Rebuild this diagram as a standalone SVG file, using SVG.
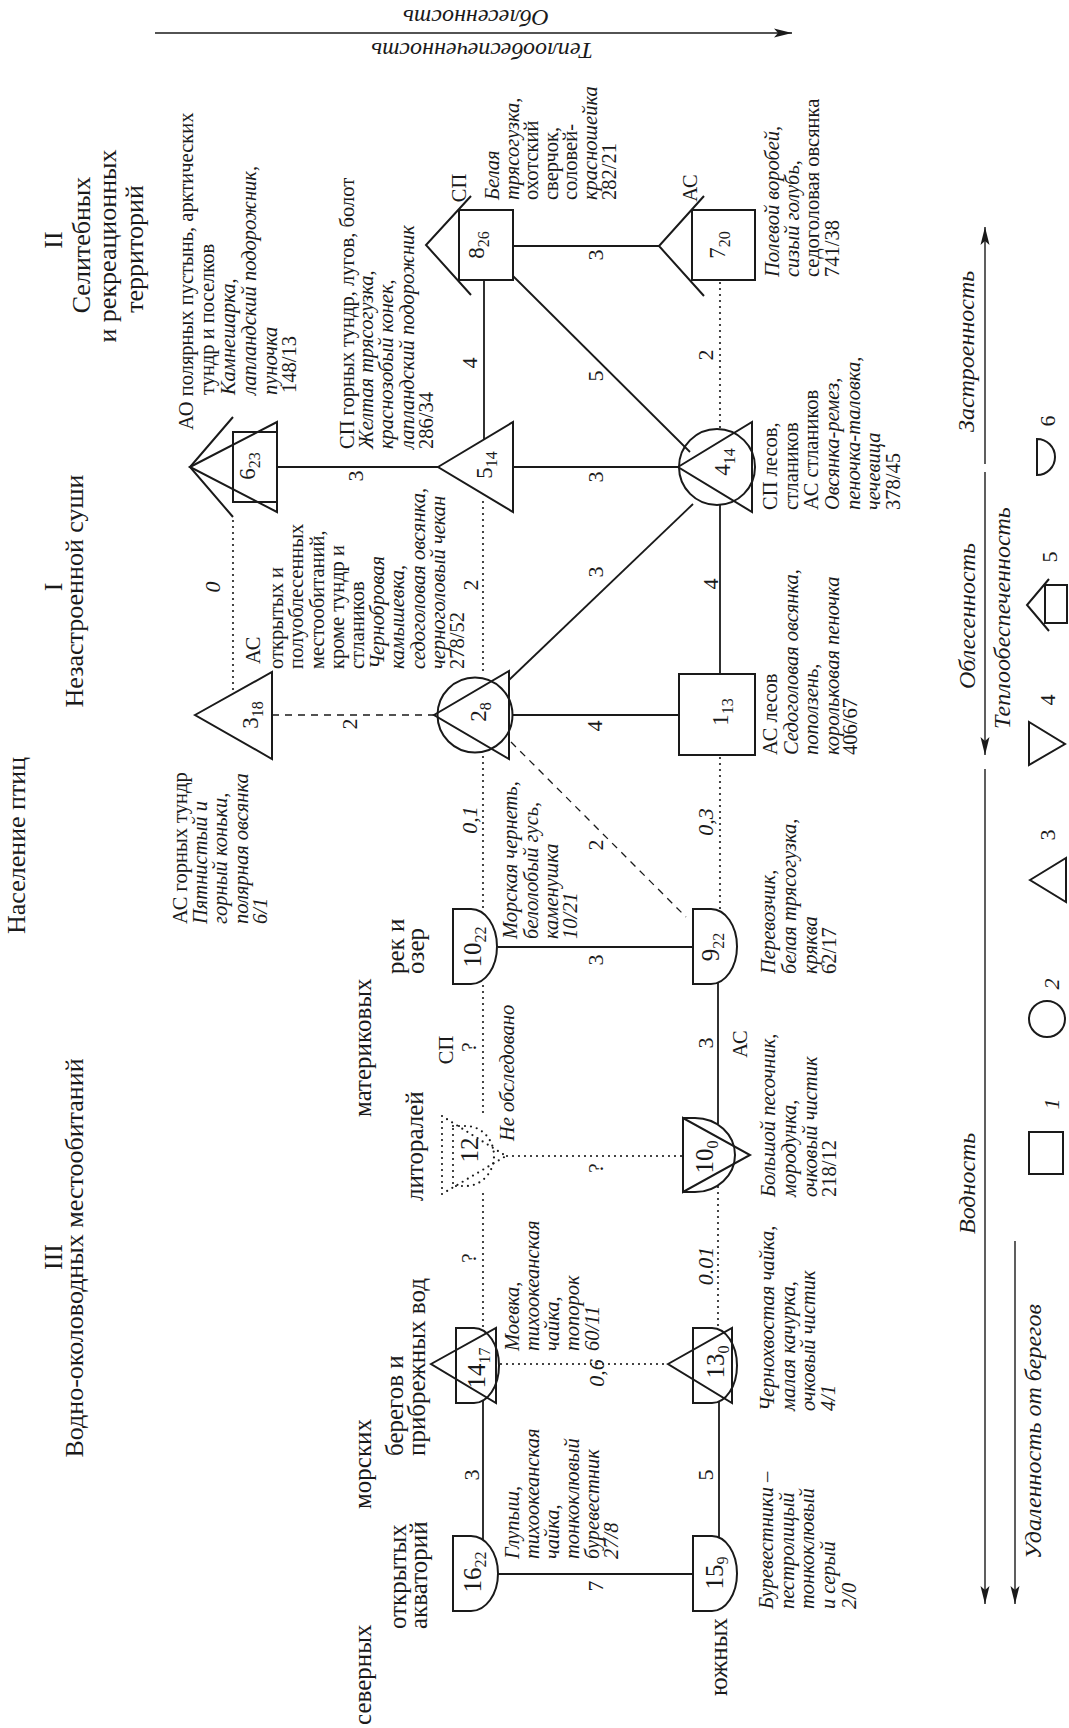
<svg xmlns="http://www.w3.org/2000/svg" width="1069" height="1728" viewBox="0 0 1069 1728">
<defs>
<style>
text{font-family:"Liberation Serif","Times New Roman",serif;fill:#1a1a1a}
.d{font-size:20.5px}
.i{font-style:italic}
.ttl{font-size:26px}
.sec{font-size:25px}
.nl{font-size:23px}
.nb{font-size:25px}
.sub{font-size:16px}
.el{font-size:22px}
.ax{font-size:24px;font-style:italic}
.sh{fill:none;stroke:#1a1a1a;stroke-width:2}
.ds{fill:none;stroke:#1a1a1a;stroke-width:2.2;stroke-dasharray:0 6;stroke-linecap:round}
.sl{stroke:#1a1a1a;stroke-width:1.8;fill:none}
.dt{stroke:#1a1a1a;stroke-width:2.2;stroke-dasharray:0 6;stroke-linecap:round;fill:none}
.dh{stroke:#1a1a1a;stroke-width:1.3;stroke-dasharray:7 6;fill:none}
.axl{stroke:#1a1a1a;stroke-width:1.4;fill:none}
</style>
<marker id="ah" viewBox="0 0 18 10" refX="18" refY="5" markerWidth="18" markerHeight="10" markerUnits="userSpaceOnUse" orient="auto"><path d="M0,0.5 L18,5 L0,9.5 L4,5 Z" fill="#1a1a1a"/></marker>
</defs>
<rect width="1069" height="1728" fill="#fff"/>

<g id="titles">
<text class="ttl" transform="translate(25 934) rotate(-90)">Население птиц</text>
<text class="ttl" text-anchor="middle" transform="translate(62 587) rotate(-90)">I</text>
<text class="ttl" text-anchor="middle" transform="translate(83 591) rotate(-90)">Незастроенной суши</text>
<text class="ttl" text-anchor="middle" transform="translate(62 240) rotate(-90)">II</text>
<text class="ttl" text-anchor="middle" transform="translate(90 245) rotate(-90)">Селитебных</text>
<text class="ttl" text-anchor="middle" transform="translate(116 246) rotate(-90)">и рекреационных</text>
<text class="ttl" text-anchor="middle" transform="translate(143 249) rotate(-90)">территорий</text>
<text class="ttl" text-anchor="middle" transform="translate(62 1257) rotate(-90)">III</text>
<text class="ttl" text-anchor="middle" transform="translate(83 1258) rotate(-90)">Водно-околоводных местообитаний</text>
<text class="sec" transform="translate(371 1725) rotate(-90)">северных</text>
<text class="sec" transform="translate(727 1696) rotate(-90)">южных</text>
<text class="sec" transform="translate(406 1629) rotate(-90)">открытых<tspan x="0" y="21">акваторий</tspan></text>
<text class="sec" transform="translate(371 1509) rotate(-90)">морских</text>
<text class="sec" transform="translate(403 1456) rotate(-90)">берегов и<tspan x="0" y="22">прибрежных вод</tspan></text>
<text class="sec" transform="translate(423 1201) rotate(-90)">литоралей</text>
<text class="sec" transform="translate(371 1117) rotate(-90)">материковых</text>
<text class="sec" transform="translate(404 974) rotate(-90)">рек и<tspan x="0" y="20">озер</tspan></text>
</g>

<g id="connectors">
<line class="sl" x1="277" y1="467" x2="438" y2="467"/>
<line class="sl" x1="513" y1="467" x2="678" y2="467"/>
<line class="sl" x1="513" y1="246" x2="659" y2="246"/>
<line class="sl" x1="484" y1="280" x2="484" y2="439"/>
<line class="sl" x1="513" y1="276" x2="690" y2="452"/>
<line class="sl" x1="509" y1="680" x2="693" y2="504"/>
<line class="sl" x1="513" y1="715" x2="679" y2="715"/>
<line class="sl" x1="720" y1="505" x2="720" y2="674"/>
<line class="sl" x1="498" y1="947" x2="693" y2="947"/>
<line class="sl" x1="718" y1="983" x2="718" y2="1124"/>
<line class="sl" x1="483" y1="1400" x2="483" y2="1540"/>
<line class="sl" x1="498" y1="1574" x2="693" y2="1574"/>
<line class="sl" x1="719" y1="1401" x2="719" y2="1538"/>
<line class="dt" x1="233" y1="521" x2="233" y2="691"/>
<line class="dt" x1="483" y1="502" x2="483" y2="676"/>
<line class="dt" x1="483" y1="757" x2="483" y2="909"/>
<line class="dt" x1="483" y1="986" x2="483" y2="1116"/>
<line class="dt" x1="483" y1="1194" x2="483" y2="1328"/>
<line class="dt" x1="720" y1="283" x2="720" y2="429"/>
<line class="dt" x1="720" y1="758" x2="720" y2="909"/>
<line class="dt" x1="718" y1="1187" x2="718" y2="1328"/>
<line class="dt" x1="507" y1="1156" x2="683" y2="1156"/>
<line class="dt" x1="501" y1="1364" x2="668" y2="1364"/>
<line class="dh" x1="272" y1="715" x2="434" y2="715"/>
<line class="dh" x1="511" y1="742" x2="686" y2="917"/>

<text class="el" text-anchor="middle" transform="translate(363 476) rotate(-90)">3</text>
<text class="el" text-anchor="middle" transform="translate(603 477) rotate(-90)">3</text>
<text class="el" text-anchor="middle" transform="translate(603 255) rotate(-90)">3</text>
<text class="el" text-anchor="middle" transform="translate(477 363) rotate(-90)">4</text>
<text class="el" text-anchor="middle" transform="translate(603 376) rotate(-90)">5</text>
<text class="el" text-anchor="middle" transform="translate(603 572) rotate(-90)">3</text>
<text class="el" text-anchor="middle" transform="translate(602 726) rotate(-90)">4</text>
<text class="el" text-anchor="middle" transform="translate(718 584) rotate(-90)">4</text>
<text class="el" text-anchor="middle" transform="translate(713 355) rotate(-90)">2</text>
<text class="el" text-anchor="middle" transform="translate(603 960) rotate(-90)">3</text>
<text class="el" text-anchor="middle" transform="translate(713 1043) rotate(-90)">3</text>
<text class="d" text-anchor="middle" transform="translate(747 1044) rotate(-90)">АС</text>
<text class="el" text-anchor="middle" transform="translate(479 1475) rotate(-90)">3</text>
<text class="el" text-anchor="middle" transform="translate(603 1586) rotate(-90)">7</text>
<text class="el" text-anchor="middle" transform="translate(713 1475) rotate(-90)">5</text>
<text class="el i" text-anchor="middle" transform="translate(220 587) rotate(-90)">0</text>
<text class="el" text-anchor="middle" transform="translate(478 585) rotate(-90)">2</text>
<text class="el i" text-anchor="middle" transform="translate(477 820) rotate(-90)">0,1</text>
<text class="el" text-anchor="middle" transform="translate(476 1047) rotate(-90)">?</text>
<text class="d" text-anchor="middle" transform="translate(453 1050) rotate(-90)">СП</text>
<text class="el" text-anchor="middle" transform="translate(476 1258) rotate(-90)">?</text>
<text class="el i" text-anchor="middle" transform="translate(713 822) rotate(-90)">0,3</text>
<text class="el i" text-anchor="middle" transform="translate(713 1266) rotate(-90)">0.01</text>
<text class="el" text-anchor="middle" transform="translate(603 1168) rotate(-90)">?</text>
<text class="el i" text-anchor="middle" transform="translate(604 1373) rotate(-90)">0,6</text>
<text class="el" text-anchor="middle" transform="translate(357 724) rotate(-90)">2</text>
<text class="el" text-anchor="middle" transform="translate(603 845) rotate(-90)">2</text>
</g>

<g id="node-6">
<polygon class="sh" points="190,467 277,422 277,512"/>
<rect class="sh" x="233" y="432" width="44" height="70"/>
<polyline class="sh" points="233,417 190,467 233,517"/>
<text class="nl" text-anchor="middle" transform="translate(255 466) rotate(-90)">6<tspan class="sub" dy="5">23</tspan></text>
</g>
<g id="node-3">
<polygon class="sh" points="195,715 272,672 272,759"/>
<text class="nl" text-anchor="middle" transform="translate(258 715) rotate(-90)">3<tspan class="sub" dy="5">18</tspan></text>
</g>
<g id="node-8">
<polyline class="sh" points="471,196 426,245 471,295"/>
<rect class="sh" x="459" y="210" width="54" height="70"/>
<text class="nl" text-anchor="middle" transform="translate(484 245) rotate(-90)">8<tspan class="sub" dy="5">26</tspan></text>
<text class="d" text-anchor="middle" transform="translate(466 188) rotate(-90)">СП</text>
</g>
<g id="node-7">
<polyline class="sh" points="704,196 659,246 704,296"/>
<rect class="sh" x="692" y="210" width="63" height="70"/>
<text class="nl" text-anchor="middle" transform="translate(725 245) rotate(-90)">7<tspan class="sub" dy="5">20</tspan></text>
<text class="d" text-anchor="middle" transform="translate(697 188) rotate(-90)">АС</text>
</g>
<g id="node-5">
<polygon class="sh" points="438,467 513,422 513,512"/>
<text class="nl" text-anchor="middle" transform="translate(492 465) rotate(-90)">5<tspan class="sub" dy="5">14</tspan></text>
</g>
<g id="node-4">
<polygon class="sh" points="678,467 752,422 752,512"/>
<circle class="sh" cx="717" cy="467" r="38"/>
<text class="nl" text-anchor="middle" transform="translate(730 462) rotate(-90)">4<tspan class="sub" dy="5">14</tspan></text>
</g>
<g id="node-2">
<polygon class="sh" points="434,715 509,671 509,759"/>
<circle class="sh" cx="475" cy="715" r="37.5"/>
<text class="nl" text-anchor="middle" transform="translate(486 712) rotate(-90)">2<tspan class="sub" dy="5">8</tspan></text>
</g>
<g id="node-1">
<rect class="sh" x="679" y="674" width="76" height="81"/>
<text class="nl" text-anchor="middle" transform="translate(728 712) rotate(-90)">1<tspan class="sub" dy="5">13</tspan></text>
</g>
<g id="node-10a">
<path class="sh" d="M453,909 H471 A26,37.5 0 0 1 471,984 H453 Z"/>
<text class="nb" text-anchor="middle" transform="translate(481 947) rotate(-90)">10<tspan class="sub" dy="5">22</tspan></text>
</g>
<g id="node-9">
<path class="sh" d="M693,909 H711 A26,37.5 0 0 1 711,984 H693 Z"/>
<text class="nb" text-anchor="middle" transform="translate(719 947) rotate(-90)">9<tspan class="sub" dy="5">22</tspan></text>
</g>
<g id="node-12">
<polygon class="ds" points="442,1116 442,1194 506,1156"/>
<path class="ds" d="M453,1126 H466 A28,30 0 0 1 466,1186 H453 Z"/>
<text class="nb" text-anchor="middle" transform="translate(478 1150) rotate(-90)">12</text>
</g>
<g id="node-10b">
<polygon class="sh" points="683,1118 683,1192 750,1155"/>
<path class="sh" d="M683,1118 H695 A40,37 0 0 1 695,1192 H683 Z"/>
<text class="nb" text-anchor="middle" transform="translate(713 1157) rotate(-90)">10<tspan class="sub" dy="5">0</tspan></text>
</g>
<g id="node-14">
<polygon class="sh" points="431,1364 496,1328 496,1403"/>
<path class="sh" d="M456,1328 H474 A25,37.5 0 0 1 474,1403 H456 Z"/>
<text class="nb" text-anchor="middle" transform="translate(485 1368) rotate(-90)">14<tspan class="sub" dy="5">17</tspan></text>
</g>
<g id="node-13">
<polygon class="sh" points="668,1364 732,1328 732,1403"/>
<path class="sh" d="M693,1328 H712 A25,37.5 0 0 1 712,1403 H693 Z"/>
<text class="nb" text-anchor="middle" transform="translate(724 1362) rotate(-90)">13<tspan class="sub" dy="5">0</tspan></text>
</g>
<g id="node-16">
<path class="sh" d="M453,1536 H471 A27,37.5 0 0 1 471,1611 H453 Z"/>
<text class="nb" text-anchor="middle" transform="translate(481 1572) rotate(-90)">16<tspan class="sub" dy="5">22</tspan></text>
</g>
<g id="node-15">
<path class="sh" d="M693,1536 H712 A25,37.5 0 0 1 712,1611 H693 Z"/>
<text class="nb" text-anchor="middle" transform="translate(723 1573) rotate(-90)">15<tspan class="sub" dy="5">9</tspan></text>
</g>

<g id="descriptions">
<text class="d" transform="translate(193 430) rotate(-90)">АО полярных пустынь, арктических<tspan x="35" y="21">тундр и поселков</tspan><tspan class="i" x="35" y="42">Камнешарка,</tspan><tspan class="i" x="35" y="63">лапландский подорожник,</tspan><tspan class="i" x="35" y="84">пуночка</tspan><tspan x="37" y="103">148/13</tspan></text>
<text class="d" transform="translate(354 449) rotate(-90)">СП горных тундр, лугов, болот<tspan class="i" x="0" y="19">Желтая трясогузка,</tspan><tspan class="i" x="0" y="39">краснозобый конек,</tspan><tspan class="i" x="0" y="60">лапландский подорожник</tspan><tspan x="0" y="79">286/34</tspan></text>
<text class="d" transform="translate(499 200) rotate(-90)"><tspan class="i">Белая</tspan><tspan class="i" x="0" y="19.5">трясогузка,</tspan><tspan x="0" y="39">охотский</tspan><tspan x="0" y="58.5">сверчок,</tspan><tspan x="0" y="78">соловей-</tspan><tspan class="i" x="0" y="97.5">красношейка</tspan><tspan x="0" y="117">282/21</tspan></text>
<text class="d" transform="translate(779 277) rotate(-90)"><tspan class="i">Полевой воробей,</tspan><tspan class="i" x="0" y="20">сизый голубь,</tspan><tspan x="0" y="40">седоголовая овсянка</tspan><tspan x="0" y="60">741/38</tspan></text>
<text class="d" transform="translate(777 510) rotate(-90)">СП лесов,<tspan x="0" y="20.5">стлаников</tspan><tspan x="0" y="41">АС  стлаников</tspan><tspan class="i" x="0" y="62">Овсянка-ремез,</tspan><tspan class="i" x="0" y="83">пеночка-таловка,</tspan><tspan class="i" x="0" y="103">чечевица</tspan><tspan x="0" y="123">378/45</tspan></text>
<text class="d" transform="translate(777 755) rotate(-90)">АС лесов<tspan class="i" x="0" y="20.5">Седоголовая овсянка,</tspan><tspan class="i" x="0" y="41">поползень,</tspan><tspan class="i" x="0" y="62">корольковая пеночка</tspan><tspan x="0" y="80">406/67</tspan></text>
<text class="d i" transform="translate(775 974) rotate(-90)">Перевозчик,<tspan x="0" y="21">белая трясогузка,</tspan><tspan x="0" y="42">кряква</tspan><tspan x="0" y="61" font-style="normal">62/17</tspan></text>
<text class="d i" transform="translate(775 1197) rotate(-90)">Большой песочник,<tspan x="0" y="21">мородунка,</tspan><tspan x="0" y="42">очковый чистик</tspan><tspan x="0" y="61" font-style="normal">218/12</tspan></text>
<text class="d i" transform="translate(774 1411) rotate(-90)">Чернохвостая чайка,<tspan x="0" y="21">малая качурка,</tspan><tspan x="0" y="41">очковый чистик</tspan><tspan x="0" y="61">4/1</tspan></text>
<text class="d i" transform="translate(773 1609) rotate(-90)">Буревестники –<tspan x="0" y="21">пестролицый</tspan><tspan x="0" y="41">тонкоклювый</tspan><tspan x="0" y="62">и серый</tspan><tspan x="0" y="83">2/0</tspan></text>
<text class="d i" transform="translate(519 1559) rotate(-90)">Глупыш,<tspan x="0" y="20">тихоокеанская</tspan><tspan x="0" y="40">чайка,</tspan><tspan x="0" y="60">тонкоклювый</tspan><tspan x="0" y="80">буревестник</tspan><tspan x="0" y="99">27/8</tspan></text>
<text class="d i" transform="translate(519 1351) rotate(-90)">Моевка,<tspan x="0" y="20">тихоокеанская</tspan><tspan x="0" y="40">чайка,</tspan><tspan x="0" y="60">топорок</tspan><tspan x="0" y="80">60/11</tspan></text>
<text class="d i" transform="translate(517 939) rotate(-90)">Морская чернеть,<tspan x="0" y="21">белолобый гусь,</tspan><tspan x="0" y="41">каменушка</tspan><tspan x="0" y="60">10/21</tspan></text>
<text class="d i" transform="translate(514 1141) rotate(-90)">Не обследовано</text>
<text class="d" transform="translate(260 664) rotate(-90)">АС</text>
<text class="d" transform="translate(283 669) rotate(-90)">открытых и<tspan x="0" y="20">полуоблесенных</tspan><tspan x="0" y="41">местообитаний,</tspan><tspan x="0" y="61">кроме тундр и</tspan><tspan x="0" y="81">стлаников</tspan><tspan class="i" x="0" y="101">Чернобровая</tspan><tspan class="i" x="0" y="121">камышевка,</tspan><tspan class="i" x="0" y="142">седоголовая овсянка,</tspan><tspan class="i" x="0" y="162">черноголовый чекан</tspan><tspan x="0" y="181">278/52</tspan></text>
<text class="d" transform="translate(187 924) rotate(-90)">АС горных тундр<tspan class="i" x="0" y="20">Пятнистый и</tspan><tspan class="i" x="0" y="40">горный коньки,</tspan><tspan class="i" x="0" y="61">полярная овсянка</tspan><tspan class="i" x="0" y="80">6/1</tspan></text>
</g>

<g id="axes">
<line class="axl" x1="155" y1="33" x2="792" y2="33" marker-end="url(#ah)"/>
<text class="ax" transform="translate(549 10) rotate(180)">Облесенность</text>
<text class="ax" transform="translate(593 43) rotate(180)">Теплообеспеченность</text>
<line class="axl" x1="985" y1="464" x2="985" y2="227" marker-end="url(#ah)"/>
<text class="ax" transform="translate(974 432) rotate(-90)">Застроенность</text>
<line class="axl" x1="985" y1="472" x2="985" y2="755" marker-end="url(#ah)"/>
<text class="ax" transform="translate(975 689) rotate(-90)">Облесенность</text>
<text class="ax" transform="translate(1010 729) rotate(-90)">Теплообеспеченность</text>
<line class="axl" x1="985" y1="769" x2="985" y2="1604" marker-end="url(#ah)"/>
<text class="ax" transform="translate(975 1234) rotate(-90)">Водность</text>
<line class="axl" x1="1015" y1="1241" x2="1015" y2="1604" marker-end="url(#ah)"/>
<text class="ax" transform="translate(1041 1559) rotate(-90)">Удаленность от берегов</text>
</g>

<g id="legend">
<path class="sh" d="M1037,439 A18,18 0 0 1 1037,475 Z"/>
<text class="el" text-anchor="middle" transform="translate(1055 421) rotate(-90)">6</text>
<polyline class="sh" points="1049,579 1027,605 1049,631"/>
<rect class="sh" x="1045" y="585" width="22" height="38"/>
<text class="el" text-anchor="middle" transform="translate(1057 557) rotate(-90)">5</text>
<polygon class="sh" points="1029,722 1029,765 1065,744"/>
<text class="el" text-anchor="middle" transform="translate(1055 700) rotate(-90)">4</text>
<polygon class="sh" points="1030,880 1066,858 1066,902"/>
<text class="el" text-anchor="middle" transform="translate(1055 835) rotate(-90)">3</text>
<circle class="sh" cx="1047" cy="1019" r="18"/>
<text class="el i" text-anchor="middle" transform="translate(1059 984) rotate(-90)">2</text>
<rect class="sh" x="1029" y="1132" width="34" height="42"/>
<text class="el i" text-anchor="middle" transform="translate(1059 1104) rotate(-90)">1</text>
</g>
</svg>
